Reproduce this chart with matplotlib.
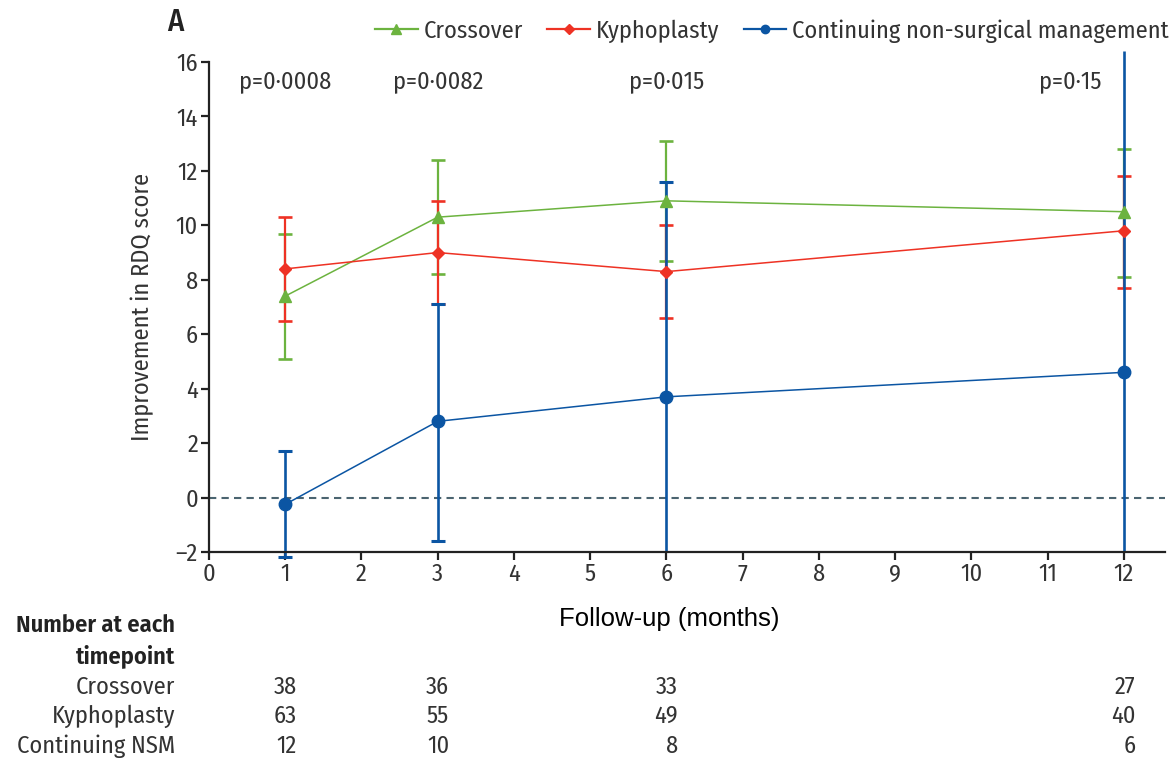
import numpy as np
import matplotlib
matplotlib.use("Agg")
import matplotlib.pyplot as plt
from matplotlib.lines import Line2D

# data
months = [1, 3, 6, 12]

cross_mean = [7.4, 10.3, 10.9, 10.5]
cross_lo = [5.1, 8.2, 8.7, 8.1]
cross_hi = [9.7, 12.4, 13.1, 12.8]

kypho_mean = [8.4, 9.0, 8.3, 9.8]
kypho_lo = [6.5, 7.1, 6.6, 7.7]
kypho_hi = [10.3, 10.9, 10.0, 11.8]

# continuing non-surgical management, bars cut at the axis / top of the panel
nsm_mean = [-0.25, 2.8, 3.7, 4.6]
nsm_lo = [-2.2, -1.6, -2.0, -2.0]
nsm_hi = [1.7, 7.1, 11.6, 16.4]

p_labels = ["p=0·0008", "p=0·0082", "p=0·015", "p=0·15"]
p_x = [1, 3, 6, 11.3]

row_names = ["Crossover", "Kyphoplasty", "Continuing NSM"]
n_cross = [38, 36, 33, 27]
n_kypho = [63, 55, 49, 40]
n_nsm = [12, 10, 8, 6]

GREEN = "#6cb33f"
RED = "#ee3224"
BLUE = "#0b55a3"
TXT = "#333333"
COND = ["Fira Sans Condensed", "DejaVu Sans"]
FS = 17.5
YMIN, YMAX = -2, 16

plt.rcParams["font.family"] = COND

fig = plt.figure(figsize=(11.69, 7.6), dpi=100)
ax = fig.add_axes([209 / 1169, 1 - 552 / 760, (1165 - 209) / 1169, 490 / 760])


def draw_series(mean, lo, hi, color, marker, ms, elw, z):
    x = np.array(months, dtype=float)
    ax.vlines(x, lo, hi, color=color, lw=elw, zorder=z, clip_on=False)
    # caps only where the bar is not cut off
    for xi, v in list(zip(x, lo)) + list(zip(x, hi)):
        if v == YMIN or v > YMAX:
            continue
        ax.plot([xi], [v], marker="_", ms=10, mew=elw + 0.3, color=color,
                zorder=z, clip_on=False)
    ax.plot(x, mean, color=color, lw=1.1, marker=marker, ms=ms, zorder=5,
            clip_on=False)


ax.axhline(0, color="#4b6470", lw=1.5, ls=(0, (3.5, 2.5)), zorder=1)

draw_series(cross_mean, cross_lo, cross_hi, GREEN, "^", 9, 1.6, 2)
draw_series(kypho_mean, kypho_lo, kypho_hi, RED, "D", 6, 1.6, 2.2)
draw_series(nsm_mean, nsm_lo, nsm_hi, BLUE, "o", 9, 1.9, 2.4)

ax.set_xlim(0, 12.54)
ax.set_ylim(YMIN, YMAX)
ax.set_xticks(range(0, 13))
ax.set_yticks(range(-2, 17, 2))
ax.set_yticklabels([str(v).replace("-", "\u2013") for v in range(-2, 17, 2)])
for s in ("top", "right"):
    ax.spines[s].set_visible(False)
for s in ("left", "bottom"):
    ax.spines[s].set_linewidth(1.6)
    ax.spines[s].set_color("#222222")
ax.tick_params(length=6, width=1.6, color="#222222", labelsize=FS,
               labelcolor=TXT, pad=2)

ax.set_ylabel("Improvement in RDQ score", fontsize=FS, color=TXT)
ax.yaxis.set_label_coords(-0.058, 0.5)
ax.set_xlabel("Follow-up (months)", fontsize=18.5, family="Liberation Sans",
              color="black")
ax.xaxis.set_label_coords(0.481, -0.112)

for lab, xp in zip(p_labels, p_x):
    ax.text(xp, 15.3, lab, ha="center", va="center", fontsize=FS, color=TXT)

fig.text(167 / 1169, 1 - 22 / 760, "A", fontsize=22, color="#222222",
         ha="left", va="center", fontweight="medium")

handles = [
    Line2D([], [], color=GREEN, lw=1.6, marker="^", ms=7),
    Line2D([], [], color=RED, lw=1.6, marker="D", ms=5),
    Line2D([], [], color=BLUE, lw=1.6, marker="o", ms=6),
]
fig.legend(handles, ["Crossover", "Kyphoplasty",
                     "Continuing non-surgical management"],
           loc="center right", bbox_to_anchor=(1.0, 1 - 31 / 760), ncol=3,
           frameon=False, fontsize=FS, handlelength=1.75, handletextpad=0.25,
           columnspacing=1.0, borderaxespad=0, borderpad=0,
           labelcolor=TXT)

# number-at-risk table
tx = 175 / 1169
fig.text(tx, 1 - 625 / 760, "Number at each", ha="right", va="center",
         fontsize=FS, fontweight="semibold", color="#222222")
fig.text(tx, 1 - 656 / 760, "timepoint", ha="right", va="center",
         fontsize=FS, fontweight="semibold", color="#222222")
trans = matplotlib.transforms.blended_transform_factory(ax.transData,
                                                       fig.transFigure)
for i, (name, counts) in enumerate(zip(row_names, [n_cross, n_kypho, n_nsm])):
    yy = 1 - (687 + 29.5 * i) / 760
    fig.text(tx, yy, name, ha="right", va="center", fontsize=FS, color=TXT)
    for m, c in zip(months, counts):
        ax.text(m + 0.15, yy, str(c), transform=trans, ha="right",
                va="center", fontsize=FS, color=TXT)

fig.savefig("out.png", dpi=100)
